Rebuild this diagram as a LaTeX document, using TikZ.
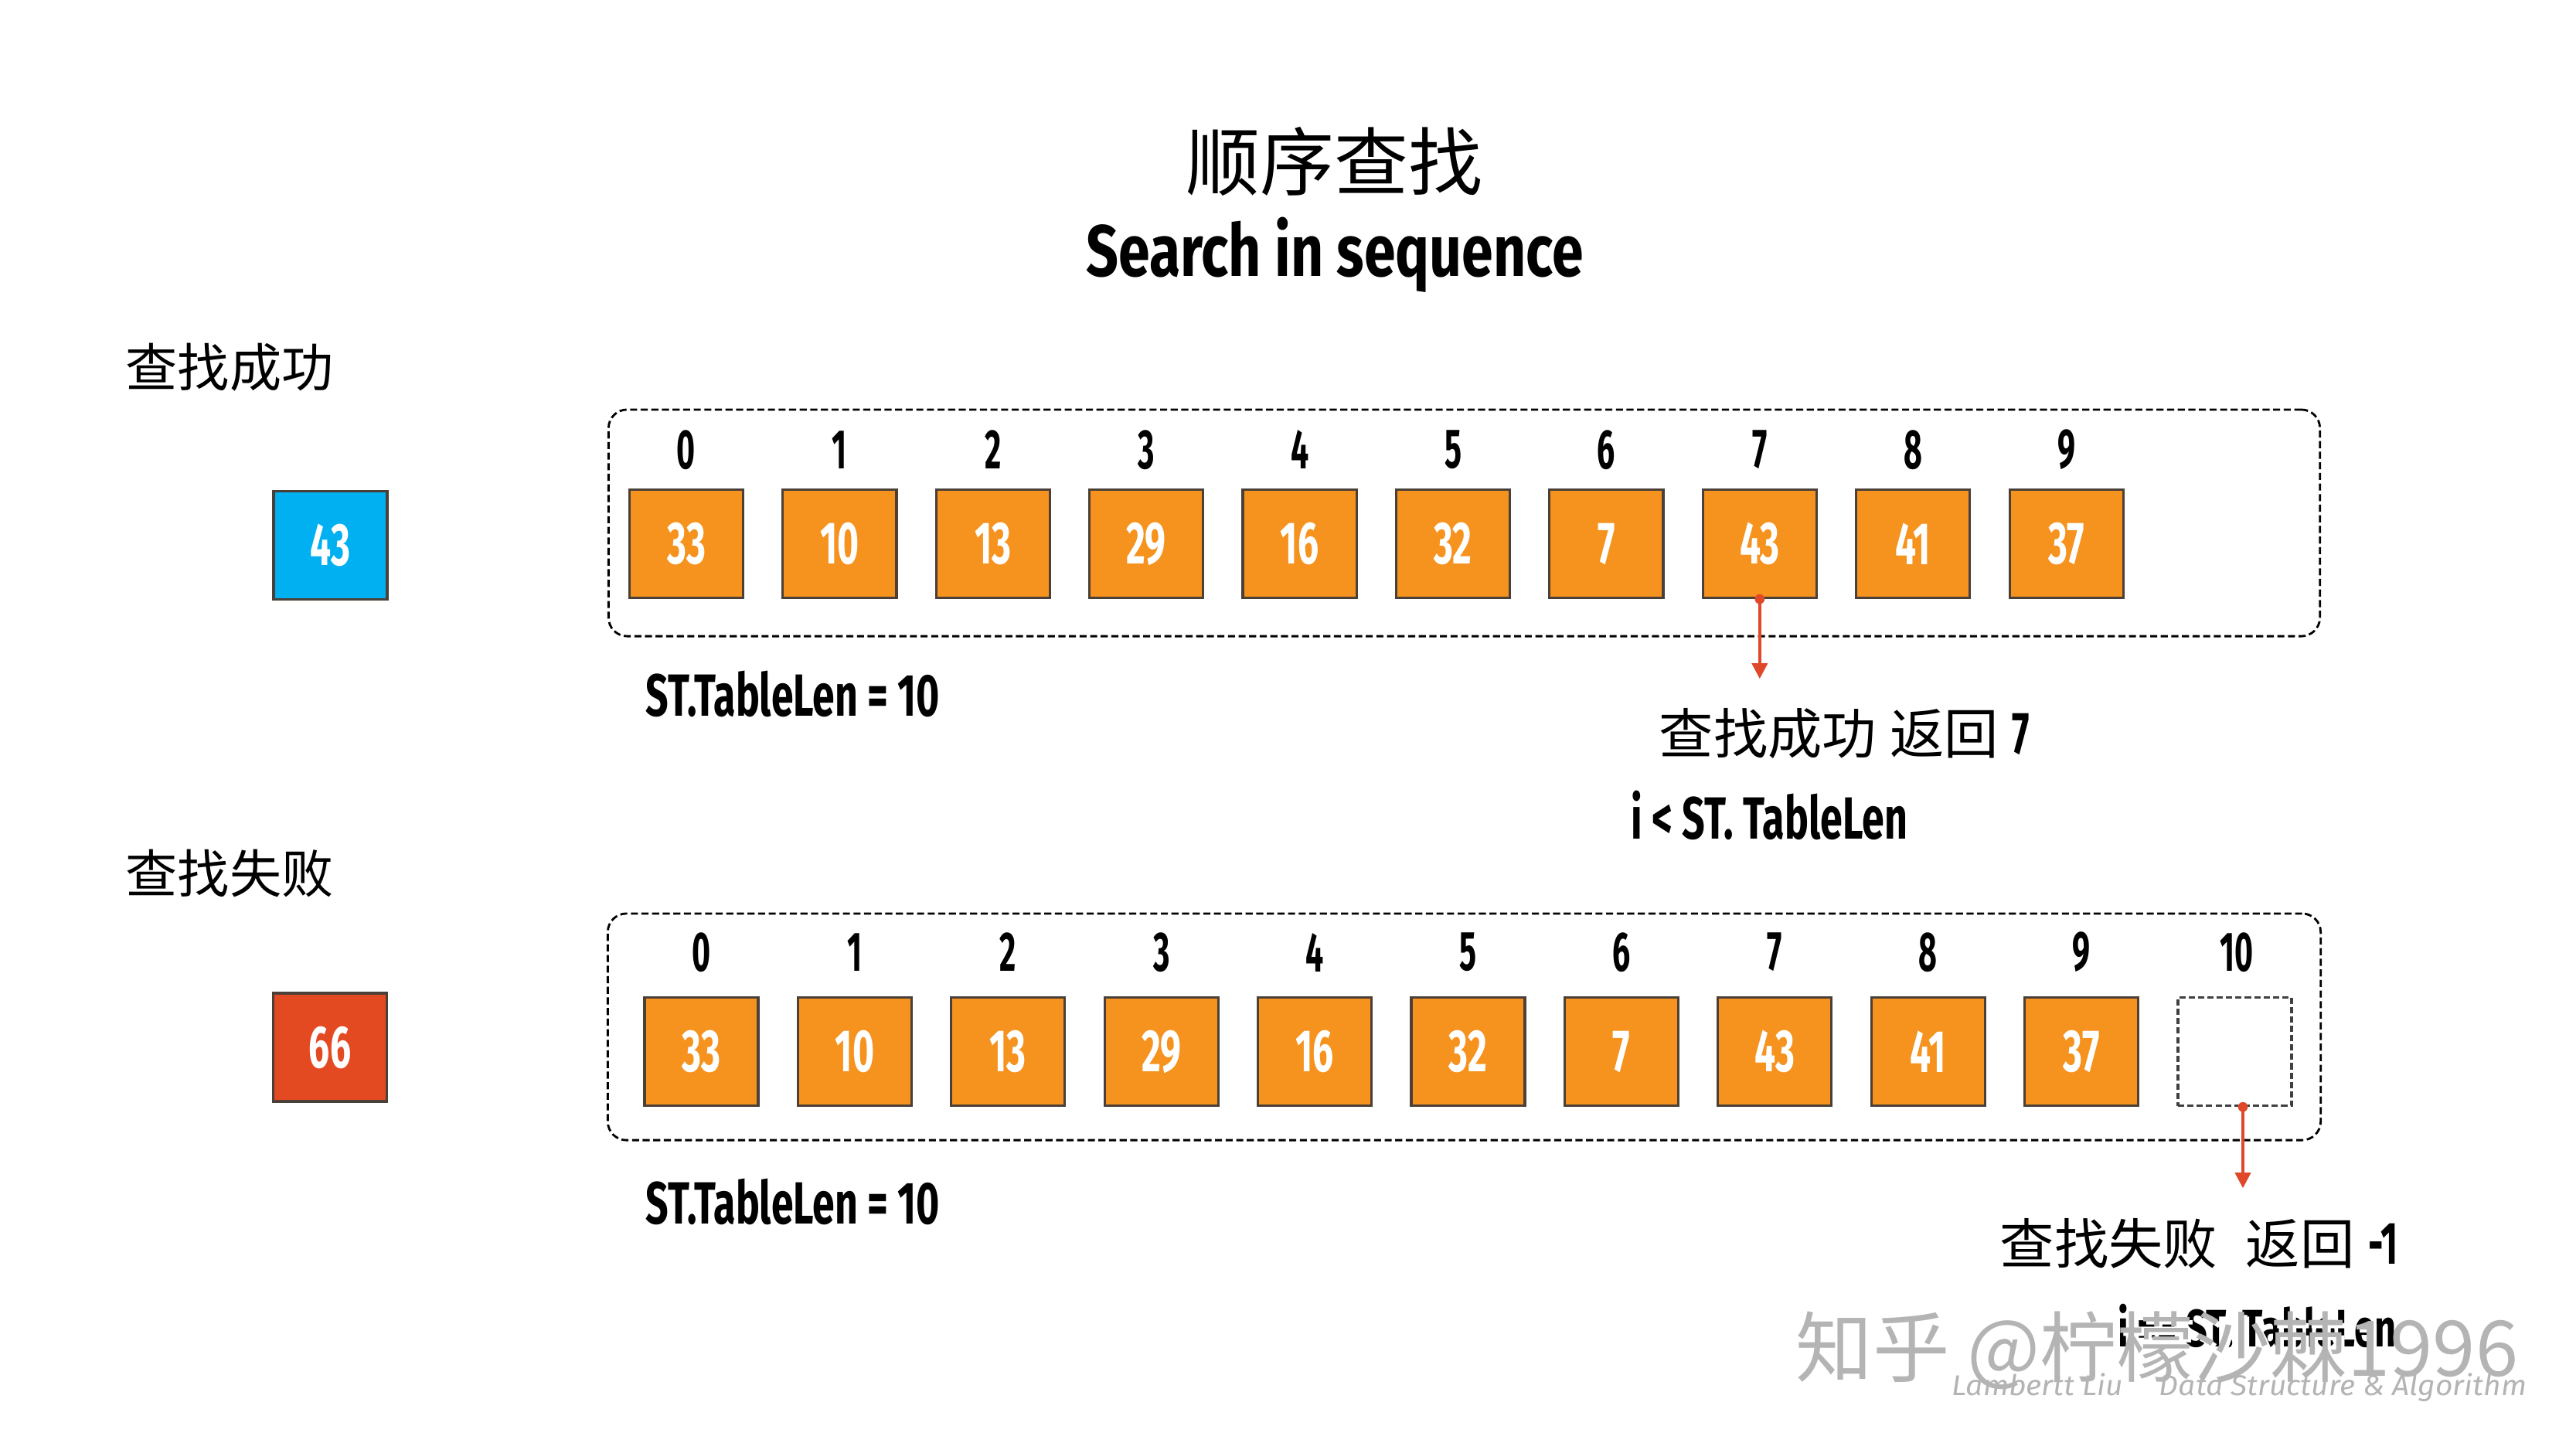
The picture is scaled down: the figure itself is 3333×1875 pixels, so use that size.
\documentclass[tikz,border=0pt]{standalone}
\usepackage{fontspec}
\usepackage{graphicx}
\usetikzlibrary{arrows.meta}
\newfontfamily\cjk{Noto Sans CJK SC}
\newfontfamily\fira{Fira Sans}
\definecolor{org}{HTML}{F6921E}
\definecolor{bord}{HTML}{4A4038}
\definecolor{keyblue}{HTML}{00B0F0}
\definecolor{keyred}{HTML}{E44A22}
\definecolor{arr}{HTML}{E0482A}
\definecolor{wm}{HTML}{B4B4B4}
\definecolor{dashgray}{HTML}{404040}
\newcommand\nbig[1]{{\fira\bfseries\fontsize{22}{22}\selectfont\scalebox{0.62}[1]{#1}}}
\newcommand\nidx[1]{{\fira\bfseries\fontsize{20.5}{20.5}\selectfont\scalebox{0.57}[1]{#1}}}
\newcommand\cw[3]{{\fira\bfseries\fontsize{#1}{#1}\selectfont\resizebox{#2}{\height}{#3}}}
\begin{document}
\begin{tikzpicture}[x=0.01cm,y=-0.01cm,
  cell/.style={draw=bord,line width=0.9pt,fill=org,minimum width=1.47cm,minimum height=1.40cm,inner sep=0pt,text=white},
  keybox/.style={cell,fill=#1},
  emptycell/.style={draw=dashgray,line width=0.9pt,dash pattern=on 2.3pt off 1.15pt,fill=white,minimum width=1.47cm,minimum height=1.40cm,inner sep=0pt},
  idx/.style={inner sep=0pt},
  frame/.style={draw=black,line width=0.8pt,dash pattern=on 2.6pt off 1.3pt,rounded corners=0.24cm,minimum height=2.93cm,inner sep=0pt},
  txt/.style={anchor=base west,inner sep=0pt},
  redarr/.style={draw=arr,line width=1.1pt,-{Triangle[length=5.7pt,width=5.7pt]}}
]
\useasboundingbox (0,0) rectangle (3333,1875);

% titles
\node[anchor=base,inner sep=0pt] (title1) at (1726,245) {\cjk\fontsize{27.3}{27.3}\selectfont 顺序查找};
\node[anchor=base,inner sep=0pt] (title2) at (1727,357) {\cw{26.8}{6.43cm}{Search in sequence}};

% left labels
\node[txt] (lab1) at (162,500) {\cjk\fontsize{19.1}{19.1}\selectfont 查找成功};
\node[txt] (lab2) at (162,1155) {\cjk\fontsize{19.1}{19.1}\selectfont 查找失败};

% key boxes
\node[keybox=keyblue] (k1) at (427.5,705.5) {\nbig{43}};
\node[keybox=keyred] (k2) at (427,1355) {\nbig{66}};

% frames
\node[frame,minimum width=22.13cm] (f1) at (1894.5,676.5) {};
\node[frame,minimum width=22.15cm] (f2) at (1894.5,1328.5) {};

% top row
\foreach \v [count=\i from 0] in {33,10,13,29,16,32,7,43,41,37}{
  \node[cell] (t\i) at ({888+198.4*\i},703.5) {\nbig{\v}};
  \node[idx] (ti\i) at ({888+198.4*\i},582) {\nidx{\i}};
}
% bottom row
\foreach \v [count=\i from 0] in {33,10,13,29,16,32,7,43,41,37}{
  \node[cell] (b\i) at ({907.5+198.4*\i},1360.5) {\nbig{\v}};
  \node[idx] (bi\i) at ({907.5+198.4*\i},1232) {\nidx{\i}};
}
\node[emptycell] (b10) at (2891.5,1360.5) {};
\node[idx] (bi10) at (2894,1232) {\nidx{10}};

% table length labels
\node[txt] (len1) at (835,926) {\cw{21.9}{3.80cm}{ST.TableLen = 10}};
\node[txt] (len2) at (835,1583) {\cw{21.9}{3.80cm}{ST.TableLen = 10}};

% arrows
\coordinate (e1) at ([yshift=-1.03cm]t7.south);
\draw[redarr] (t7.south) -- (e1);
\fill[arr] (t7.south) circle[radius=1.8pt];
\coordinate (s2) at ([xshift=0.105cm]b10.south);
\coordinate (e2) at ([yshift=-1.05cm]s2);
\draw[redarr] (s2) -- (e2);
\fill[arr] (s2) circle[radius=1.8pt];

% results
\node[txt] (r1) at (2146,975) {\cjk\fontsize{20}{20}\selectfont 查找成功\hspace{5pt}返回\hspace{5pt}\nbig{7}};
\node[txt] (c1) at (2110,1085) {\cw{21.9}{3.57cm}{i < ST. TableLen}};
\node[txt] (r2) at (2587,1635) {\cjk\fontsize{20}{20}\selectfont 查找失败\hspace{10.5pt}返回\hspace{5pt}\nbig{-1}};
\node[txt] (c2) at (2740,1742) {\cw{19.4}{3.60cm}{i == ST. TableLen}};

% watermark
\node[txt,text=white] (wm0) at (2327,1784) {\cjk\fontsize{28.3}{28.3}\selectfont 知乎 @柠檬沙棘1996};
\node[txt,text=wm] (wm1) at (2323,1780) {\cjk\fontsize{28.3}{28.3}\selectfont 知乎 @柠檬沙棘1996};
\node[txt,text=wm] (wm2) at (2525,1805) {\fira\itshape\fontsize{10.5}{10.5}\selectfont\resizebox{7.43cm}{\height}{Lambertt Liu\hspace{1.2em}Data Structure \& Algorithm}};
\end{tikzpicture}
\end{document}
